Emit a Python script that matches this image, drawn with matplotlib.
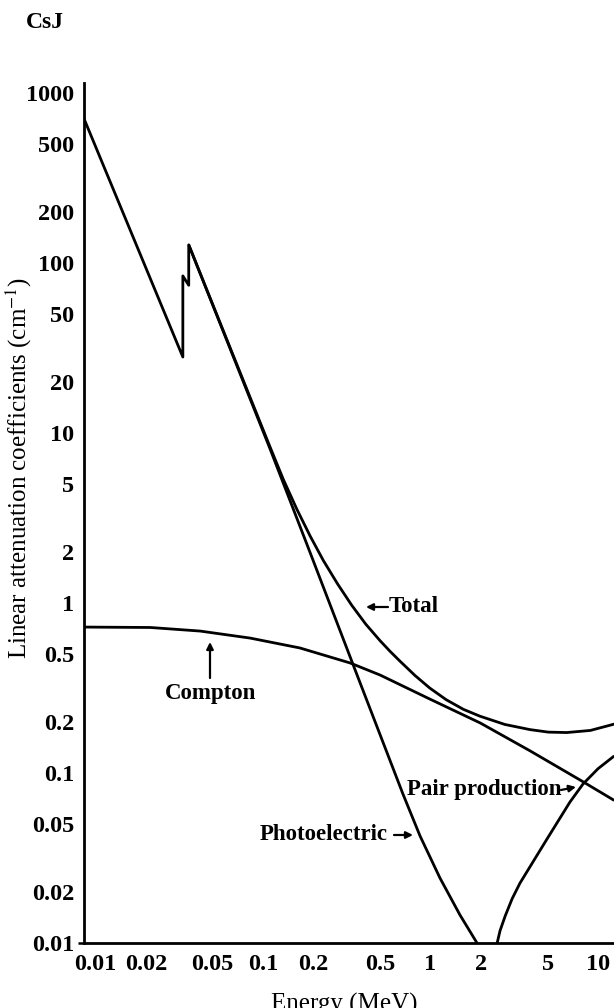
import matplotlib
matplotlib.use('Agg')
import matplotlib.pyplot as plt

plt.rcParams['font.family'] = ['Liberation Serif', 'DejaVu Serif']
plt.rcParams['mathtext.fontset'] = 'stix'

# ---- data ----
total_E  = [0.0085, 0.0332, 0.0332, 0.0360, 0.0360, 0.110, 0.132, 0.159, 0.191, 0.229,
            0.278, 0.338, 0.411, 0.500, 0.573, 0.657, 0.807, 0.990, 1.24, 1.57, 1.97,
            2.78, 3.93, 5.05, 6.50, 9.00, 12.5]
total_mu = [713, 28.0, 84.0, 74.0, 128, 8.3, 5.35, 3.57, 2.48, 1.78,
            1.30, 0.972, 0.750, 0.600, 0.520, 0.455, 0.375, 0.316, 0.270, 0.237, 0.216,
            0.193, 0.180, 0.174, 0.173, 0.178, 0.194]

photo_E  = [0.0360, 0.110, 0.191, 0.364, 0.686, 0.866, 1.139, 1.50, 1.895]
photo_mu = [128, 8.09, 1.98, 0.378, 0.0748, 0.0426, 0.0241, 0.0146, 0.0100]

compton_E  = [0.0085, 0.0212, 0.0421, 0.0837, 0.166, 0.331, 0.500, 0.993,
              1.98, 3.93, 7.81, 12.5]
compton_mu = [0.722, 0.718, 0.684, 0.622, 0.544, 0.444, 0.377, 0.272,
              0.197, 0.135, 0.091, 0.069]

pair_E  = [2.50, 2.60, 2.79, 3.07, 3.42, 4.96, 6.80, 8.14, 10.0, 12.5]
pair_mu = [0.0100, 0.0118, 0.0144, 0.0182, 0.0225, 0.0409, 0.0675, 0.0862, 0.106, 0.126]

xticks = [0.01, 0.02, 0.05, 0.1, 0.2, 0.5, 1, 2, 5, 10]
xticklabels = ['0.01', '0.02', '0.05', '0.1', '0.2', '0.5', '1', '2', '5', '10']
yticks = [0.01, 0.02, 0.05, 0.1, 0.2, 0.5, 1, 2, 5, 10, 20, 50, 100, 200, 500, 1000]
yticklabels = ['0.01', '0.02', '0.05', '0.1', '0.2', '0.5', '1', '2', '5', '10',
               '20', '50', '100', '200', '500', '1000']

W, H = 614, 1008
fig = plt.figure(figsize=(W / 100, H / 100), dpi=100)
ax = fig.add_axes([84 / W, (H - 943) / H, (W - 84) / W, (943 - 83) / H])

lw = 2.0
for E, mu in [(total_E, total_mu), (photo_E, photo_mu),
              (compton_E, compton_mu), (pair_E, pair_mu)]:
    ax.plot(E, mu, color='black', lw=lw, solid_joinstyle='round', solid_capstyle='butt')

ax.set_xscale('log')
ax.set_yscale('log')
ax.set_xlim(0.00853, 12.46)
ax.set_ylim(0.01, 1146)
ax.minorticks_off()
ax.set_xticks(xticks)
ax.set_xticklabels(xticklabels)
ax.set_yticks(yticks)
ax.set_yticklabels(yticklabels)
ax.tick_params(axis='both', length=0, width=1.8, labelsize=17.5)
ax.tick_params(axis='x', pad=8)
ax.tick_params(axis='y', pad=7)
for lab in ax.get_xticklabels() + ax.get_yticklabels():
    lab.set_fontweight('bold')
# small stub at the lowest y tick, as in the reference
ax.yaxis.get_major_ticks()[0].tick1line.set_markersize(4)

for s in ['top', 'right']:
    ax.spines[s].set_visible(False)
for s in ['left', 'bottom']:
    ax.spines[s].set_linewidth(2.0)

def P(x, y):
    return (x, H - y)

fig.text(45 / W, 1 - 22 / H, 'CsJ', fontsize=17, fontweight='bold', ha='center', va='center')
fig.text(19 / W, 1 - 468 / H, 'Linear attenuation coefficients (cm$^{-1}$)',
         fontsize=18, rotation=90, ha='center', va='center')
fig.text(344 / W, 1 - 993 / H, 'Energy (MeV)', fontsize=18, ha='center', va='top')

arrow = dict(arrowstyle='-|>', color='black', lw=1.6, mutation_scale=10,
             shrinkA=0, shrinkB=0)
tkw = dict(fontsize=16.5, fontweight='bold', xycoords='figure pixels')

ax.annotate('Total', xy=P(389, 607), ha='left', va='center', **tkw)
ax.annotate('', xy=P(366, 607), xytext=P(388, 607), xycoords='figure pixels',
            textcoords='figure pixels', arrowprops=arrow)

ax.annotate('Compton', xy=P(211, 694), ha='center', va='center', **tkw)
ax.annotate('', xy=P(210, 642), xytext=P(210, 678), xycoords='figure pixels',
            textcoords='figure pixels', arrowprops=arrow)

ax.annotate('Pair production', xy=P(407, 790), ha='left', va='center', **tkw)
ax.annotate('', xy=P(576, 787), xytext=P(561, 790), xycoords='figure pixels',
            textcoords='figure pixels', arrowprops=arrow)

ax.annotate('Photoelectric', xy=P(388, 835), ha='right', va='center', **tkw)
ax.annotate('', xy=P(413, 835), xytext=P(394, 835), xycoords='figure pixels',
            textcoords='figure pixels', arrowprops=arrow)

fig.savefig('out.png', dpi=100)
